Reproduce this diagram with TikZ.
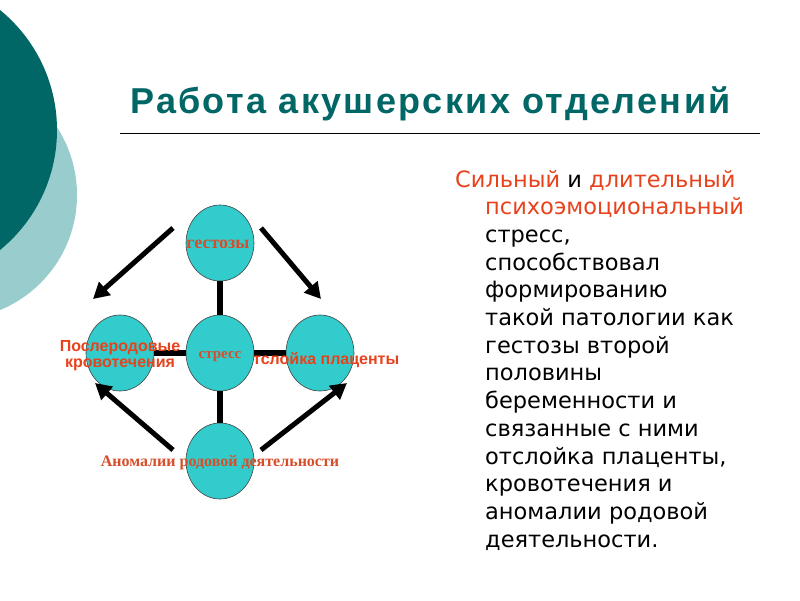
\documentclass[tikz,border=0pt]{standalone}
\usepackage{fontspec}
\setmainfont{Liberation Serif}
\newfontfamily\sansfnt{Liberation Sans}
\newfontfamily\titlefnt[LetterSpace=6.5]{Liberation Sans}
\newfontfamily\bodyfnt{DejaVu Sans}
\usetikzlibrary{arrows.meta,shapes.geometric}
\definecolor{tealdark}{RGB}{0,102,102}
\definecolor{teallight}{RGB}{153,204,204}
\definecolor{turq}{RGB}{51,204,204}
\definecolor{redtext}{RGB}{232,66,28}
\definecolor{redserif}{RGB}{214,78,42}
\tikzset{
  blob/.style={ellipse, fill=turq, draw=black!75, line width=0.6pt, minimum width=68pt, minimum height=76pt, inner sep=0pt},
  link/.style={line width=6pt},
  arr/.style={line width=5pt, -{Triangle[length=16pt,width=17pt]}},
  serifl/.style={text=redserif, font=\bfseries\fontsize{16}{18}\selectfont, inner sep=0pt, anchor=base},
  sansl/.style={text=redtext, font=\sansfnt\bfseries\fontsize{16}{18}\selectfont, inner sep=0pt, anchor=base},
  bodyl/.style={font=\bodyfnt\fontsize{22.5}{26}\selectfont, inner sep=0pt, anchor=base west},
}
\begin{document}
\begin{tikzpicture}[x=1pt,y=-1pt]
\useasboundingbox (0,0) rectangle (800,600);
\fill[white] (0,0) rectangle (800,600);
\begin{scope}
\clip (0,0) rectangle (800,600);
\fill[teallight] (-47.4,195) circle[radius=124.4pt];
\fill[tealdark] (-97.8,130) circle[radius=154.8pt];
\end{scope}
% title
\node[anchor=base west, inner sep=0pt, text=tealdark, font=\titlefnt\bfseries\fontsize{36}{40}\selectfont] (title) at (130,113) {Работа акушерских отделений};
\coordinate (rl) at (120,133);
\coordinate (rr) at (760,133);
\draw[line width=1pt] (rl) -- (rr);
% circles
\node[blob] (top) at (220,243) {};
\node[blob] (mid) at (220,353) {};
\node[blob] (left) at (120,353) {};
\node[blob] (right) at (320,353) {};
\node[blob] (bot) at (220,461) {};
\draw[link] (top) -- (mid);
\draw[link] (mid) -- (bot);
\draw[link] (mid) -- (left);
\draw[link] (mid) -- (right);
% arrows
\coordinate (a1s) at (173,228); \coordinate (a1e) at (93,299);
\coordinate (a2s) at (261,228); \coordinate (a2e) at (321,299);
\coordinate (a3s) at (173,450); \coordinate (a3e) at (95,383);
\coordinate (a4s) at (261,450); \coordinate (a4e) at (347,383);
\draw[arr] (a1s) -- (a1e);
\draw[arr] (a2s) -- (a2e);
\draw[arr] (a3s) -- (a3e);
\draw[arr] (a4s) -- (a4e);
% labels
\node[serifl, font=\bfseries\fontsize{18}{20}\selectfont] (ltop) at (218,248) {гестозы};
\node[serifl, font=\bfseries\fontsize{15}{18}\selectfont] (lmid) at (220,358) {стресс};
\node[serifl] (lbot) at (220,466) {Аномалии родовой деятельности};
\node[sansl] (lleft1) at (120,351) {Послеродовые};
\node[sansl] (lleft2) at (120,367) {кровотечения};
\node[sansl, anchor=base west] (lright) at (253,364) {тслойка плаценты};
% body text
\node[bodyl] (t1) at (455,187.0) {\textcolor{redtext}{Сильный} и \textcolor{redtext}{длительный}};
\node[bodyl, text=redtext] (t2) at (485,214.7) {психоэмоциональный};
\node[bodyl] (t3) at (485,242.4) {стресс,};
\node[bodyl] (t4) at (485,270.1) {способствовал};
\node[bodyl] (t5) at (485,297.8) {формированию};
\node[bodyl] (t6) at (485,325.5) {такой патологии как};
\node[bodyl] (t7) at (485,353.2) {гестозы второй};
\node[bodyl] (t8) at (485,380.9) {половины};
\node[bodyl] (t9) at (485,408.6) {беременности и};
\node[bodyl] (t10) at (485,436.3) {связанные с ними};
\node[bodyl] (t11) at (485,464.0) {отслойка плаценты,};
\node[bodyl] (t12) at (485,491.7) {кровотечения и};
\node[bodyl] (t13) at (485,519.4) {аномалии родовой};
\node[bodyl] (t14) at (485,547.1) {деятельности.};
\end{tikzpicture}
\end{document}
